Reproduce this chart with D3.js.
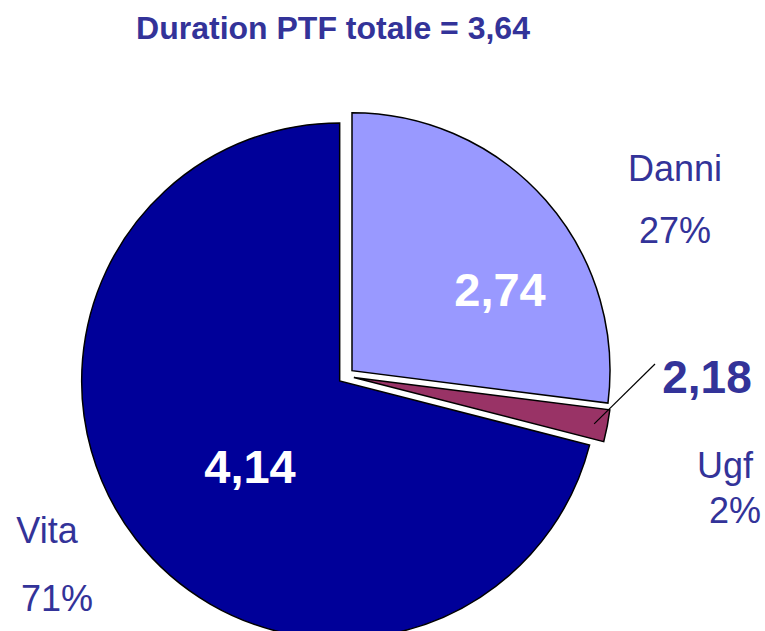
<!DOCTYPE html>
<html>
<head>
<meta charset="utf-8">
<script src="https://cdn.jsdelivr.net/npm/d3@7"></script>
<style>
  body { margin: 0; background: #fff; }
  text { font-family: Arial, "Liberation Sans", sans-serif; }
</style>
</head>
<body>
<div id="chart"></div>
<script>
const WIDTH = 765, HEIGHT = 631;
const CENTER = {X: 346, Y: 376};
const RADIUS = 258;
const EXPLODE = 8;

// data
const categories = ["Danni", "Ugf", "Vita"];
const shares = [27, 2, 71];
const durations = ["2,74", "2,18", "4,14"];
const colors = ["#9999ff", "#993366", "#000099"];
const title = "Duration PTF totale = 3,64";

const svg = d3.select("#chart").append("svg")
    .attr("width", WIDTH)
    .attr("height", HEIGHT);

svg.append("text")
    .attr("x", 333).attr("y", 39)
    .attr("text-anchor", "middle")
    .attr("font-size", 32).attr("font-weight", "bold")
    .attr("fill", "#333399")
    .text(title);

const pie = d3.pie().sort(null).value(d => d)
const arcs = pie(shares)
const arc = d3.arc().innerRadius(0).outerRadius(RADIUS)

const g = svg.append("g").attr("transform", `translate(${CENTER.X},${CENTER.Y})`)

function offset(d) {
    const a = (d.startAngle + d.endAngle) / 2
    return [Math.sin(a) * EXPLODE, -Math.cos(a) * EXPLODE]
}

g.selectAll("path").data(arcs).enter()
    .append("path")
    .attr("d", arc)
    .attr("transform", d => `translate(${offset(d)})`)
    .attr("fill", (d, i) => colors[i])
    .attr("stroke", "#000")
    .attr("stroke-width", 1.5)

// value labels inside slices (Ugf is outside with a leader line)
const valuePos = [[154, -87], null, [-96, 90]]
arcs.forEach((d, i) => {
    if (i === 1) return
    g.append("text")
        .attr("x", valuePos[i][0]).attr("y", valuePos[i][1])
        .attr("text-anchor", "middle")
        .attr("dominant-baseline", "central")
        .attr("font-size", 47).attr("font-weight", "bold")
        .attr("fill", "#fff")
        .text(durations[i])
})

// Ugf leader line + outside value
const ugf = arcs[1]
const ua = (ugf.startAngle + ugf.endAngle) / 2
const r0 = RADIUS * 0.96
g.append("line")
    .attr("x1", Math.sin(ua) * r0 + offset(ugf)[0] - 3)
    .attr("y1", -Math.cos(ua) * r0 + offset(ugf)[1])
    .attr("x2", 309).attr("y2", -12)
    .attr("stroke", "#000").attr("stroke-width", 1.2)
g.append("text")
    .attr("x", 361).attr("y", 1)
    .attr("text-anchor", "middle")
    .attr("dominant-baseline", "central")
    .attr("font-size", 46).attr("font-weight", "bold")
    .attr("fill", "#333399")
    .text(durations[1])

// category labels
const labelPos = [[675, 168, 675, 230], [725, 465, 735, 510], [47, 530, 57, 598]]
categories.forEach((c, i) => {
    const p = labelPos[i]
    svg.append("text")
        .attr("x", p[0]).attr("y", p[1])
        .attr("text-anchor", "middle").attr("dominant-baseline", "central")
        .attr("font-size", 36).attr("fill", "#333399")
        .text(c)
    svg.append("text")
        .attr("x", p[2]).attr("y", p[3])
        .attr("text-anchor", "middle").attr("dominant-baseline", "central")
        .attr("font-size", 36).attr("fill", "#333399")
        .text(shares[i] + "%")
})
</script>
</body>
</html>
